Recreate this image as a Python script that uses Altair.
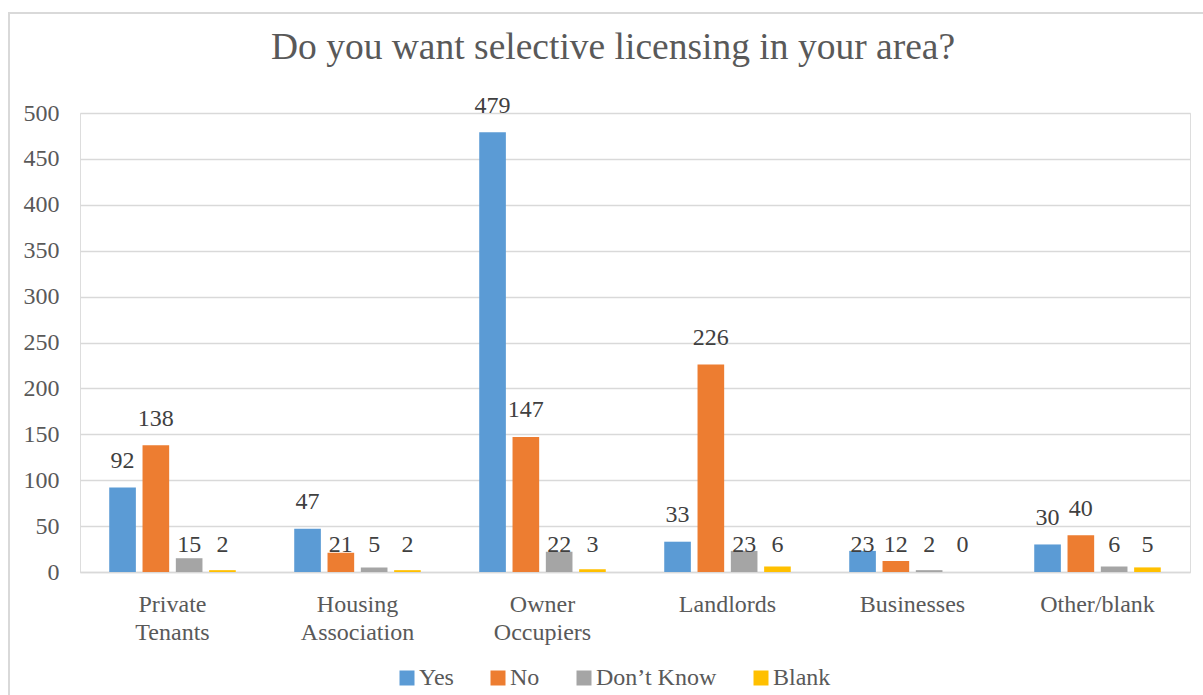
import altair as alt
import pandas as pd

categories = ["Private Tenants", "Housing Association", "Owner Occupiers",
              "Landlords", "Businesses", "Other/blank"]
series = ["Yes", "No", "Don\u2019t Know", "Blank"]
colors = ["#5B9BD5", "#ED7D31", "#A5A5A5", "#FFC000"]
yes_vals = [92, 47, 479, 33, 23, 30]
no_vals = [138, 21, 147, 226, 12, 40]
dk_vals = [15, 5, 22, 23, 2, 6]
blank_vals = [2, 2, 3, 6, 0, 5]
y_ticks = [0, 50, 100, 150, 200, 250, 300, 350, 400, 450, 500]
title_text = "Do you want selective licensing in your area?"

rows = []
for s, vals in zip(series, [yes_vals, no_vals, dk_vals, blank_vals]):
    for c, v in zip(categories, vals):
        rows.append({"category": c, "series": s, "value": v})
df = pd.DataFrame(rows)

FONT = "'Times New Roman', 'Liberation Serif', serif"
W, H = 1110, 459

x = alt.X("category:N", sort=categories, title=None,
          scale=alt.Scale(paddingInner=0.28, paddingOuter=0.14),
          axis=alt.Axis(labelAngle=0, labelExpr="split(datum.label, ' ')",
                        labelFont=FONT, labelFontSize=24, labelColor="#595959",
                        labelLineHeight=28, labelPadding=20, ticks=False,
                        domain=True, domainColor="#D9D9D9", domainWidth=1.5))
xo = alt.XOffset("series:N", sort=series,
                 scale=alt.Scale(paddingInner=0.2, paddingOuter=0.1))

base = alt.Chart(df)

bars = base.mark_bar().encode(
    x=x, xOffset=xo,
    y=alt.Y("value:Q", title=None,
            scale=alt.Scale(domain=[0, 500], nice=False),
            axis=alt.Axis(values=y_ticks, labelFont=FONT, labelFontSize=24,
                          labelColor="#595959", labelPadding=21, ticks=False,
                          domain=False, grid=True, gridColor="#D9D9D9",
                          gridWidth=1.5)),
    color=alt.Color("series:N", sort=series,
                    scale=alt.Scale(domain=series, range=colors),
                    legend=alt.Legend(title=None, orient="none", direction="horizontal",
                                      legendX=315, legendY=553, padding=0,
                                      labelFont=FONT, labelFontSize=24,
                                      labelColor="#595959", symbolType="square",
                                      symbolSize=225, symbolStrokeWidth=0,
                                      columnPadding=32, labelOffset=0)),
)

labels = base.transform_calculate(
    ly="datum.value >= 30 ? datum.value + 29 : 29"
).mark_text(font=FONT, fontSize=24, color="#404040", baseline="middle").encode(
    x=alt.X("category:N", sort=categories), xOffset=xo,
    y=alt.Y("ly:Q"),
    text=alt.Text("value:Q"),
)

frame = alt.Chart(pd.DataFrame({"a": [0]})).mark_rect(
    fill=None, stroke="#D9D9D9", strokeWidth=2
).encode(x=alt.value(-71), x2=alt.value(1200), y=alt.value(-100), y2=alt.value(700))

title = alt.Chart(pd.DataFrame({"t": [title_text]})).mark_text(
    font=FONT, fontSize=37.5, color="#595959", align="center", baseline="alphabetic"
).encode(x=alt.value(533), y=alt.value(-54), text="t:N")

chart = alt.layer(frame, bars, labels, title).properties(
    width=W, height=H,
    padding={"left": 80, "top": 113, "right": 13, "bottom": 123},
    autosize=alt.AutoSizeParams(type="none"),
).configure_view(stroke=None).configure(background="white")

chart.save("out.html", embed_options={"renderer": "svg", "actions": False})
